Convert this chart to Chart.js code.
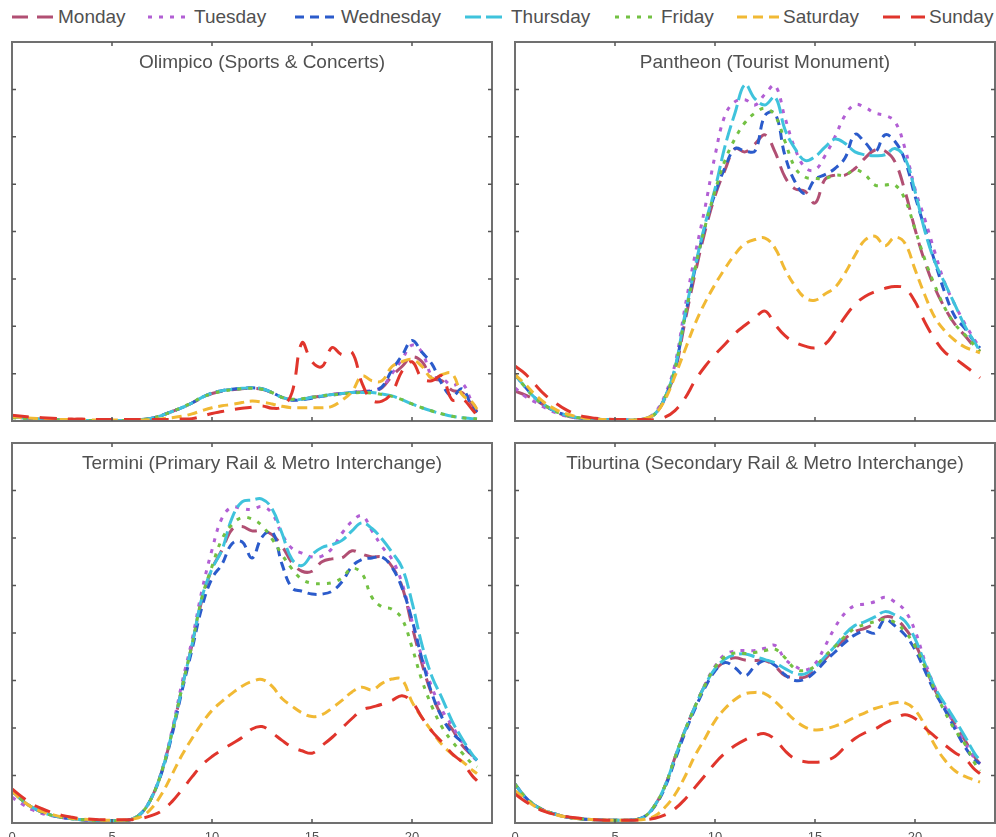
<!DOCTYPE html>
<html>
<head>
<meta charset="utf-8">
<title>Hourly activity by day of week</title>
<script src="https://cdn.jsdelivr.net/npm/chart.js@4"></script>
<style>
  html, body { margin: 0; padding: 0; background: #fff; }
  body { width: 996px; height: 837px; overflow: hidden; position: relative;
         font-family: "Liberation Sans", Arial, Helvetica, sans-serif; }
  .legend-item { position: absolute; top: 6px; height: 22px; display: flex; align-items: center;
                 color: #505050; font-size: 19px; white-space: nowrap; }
  .legend-item svg { margin-right: 4px; }
  canvas { position: absolute; }
</style>
</head>
<body>
<div id="legend"></div>
<canvas id="olimpico" width="500" height="400" style="left:0;top:30px"></canvas>
<canvas id="pantheon" width="496" height="400" style="left:500px;top:30px"></canvas>
<canvas id="termini" width="500" height="420" style="left:0;top:433px"></canvas>
<canvas id="tiburtina" width="496" height="420" style="left:500px;top:433px"></canvas>
<script>
// Hour of day for each sample
const hours = [0,0.5,1,1.5,2,2.5,3,3.5,4,4.5,5,5.5,
               6,6.5,7,7.5,8,8.5,9,9.5,10,10.5,11,11.5,
               12,12.5,13,13.5,14,14.5,15,15.5,16,16.5,17,17.5,
               18,18.5,19,19.5,20,20.5,21,21.5,22,22.5,23,23.25];

const days = ['Monday','Tuesday','Wednesday','Thursday','Friday','Saturday','Sunday'];
const xTickValues = [0,5,10,15,20];
const yTickValues = [1,2,3,4,5,6,7];

// Olimpico (Sports & Concerts)
const olimpicoMonday = [0.08,0.07,0.05,0.04,0.03,0.02,0.02,0.01,0.01,0.01,0.01,0.01,
  0.02,0.03,0.06,0.12,0.2,0.28,0.38,0.49,0.58,0.63,0.66,0.68,
  0.69,0.67,0.6,0.5,0.45,0.46,0.5,0.53,0.56,0.58,0.6,0.62,
  0.62,0.7,0.95,1.15,1.35,1.25,0.9,0.85,0.65,0.6,0.35,0.2];
const olimpicoTuesday = [0.08,0.07,0.05,0.04,0.03,0.02,0.02,0.01,0.01,0.01,0.01,0.01,
  0.02,0.03,0.06,0.12,0.2,0.28,0.38,0.5,0.59,0.64,0.67,0.69,
  0.7,0.68,0.6,0.5,0.45,0.46,0.5,0.53,0.56,0.58,0.6,0.62,
  0.65,0.72,1.0,1.3,1.6,1.45,0.95,0.9,0.75,0.8,0.4,0.25];
const olimpicoWednesday = [0.08,0.07,0.05,0.04,0.03,0.02,0.02,0.01,0.01,0.01,0.01,0.01,
  0.02,0.03,0.06,0.12,0.2,0.28,0.38,0.5,0.59,0.64,0.67,0.69,
  0.7,0.68,0.6,0.5,0.44,0.45,0.48,0.52,0.55,0.58,0.6,0.62,
  0.63,0.72,1.08,1.38,1.7,1.45,1.2,0.78,0.52,0.68,0.3,0.18];
const olimpicoThursday = [0.08,0.07,0.05,0.04,0.03,0.02,0.02,0.01,0.01,0.01,0.01,0.01,
  0.02,0.03,0.06,0.12,0.2,0.28,0.38,0.5,0.59,0.64,0.67,0.69,
  0.7,0.68,0.6,0.5,0.45,0.46,0.5,0.53,0.56,0.58,0.6,0.6,
  0.6,0.57,0.53,0.45,0.36,0.28,0.21,0.15,0.1,0.07,0.05,0.04];
const olimpicoFriday = [0.07,0.06,0.05,0.04,0.03,0.02,0.02,0.01,0.01,0.01,0.01,0.01,
  0.02,0.03,0.06,0.12,0.2,0.29,0.39,0.5,0.58,0.63,0.66,0.68,
  0.69,0.67,0.6,0.5,0.46,0.47,0.5,0.53,0.55,0.57,0.59,0.6,
  0.59,0.56,0.52,0.45,0.36,0.28,0.21,0.15,0.1,0.07,0.05,0.04];
const olimpicoSaturday = [0.09,0.07,0.06,0.05,0.04,0.03,0.03,0.02,0.02,0.02,0.02,0.02,
  0.02,0.02,0.03,0.05,0.07,0.1,0.15,0.22,0.28,0.32,0.35,0.39,
  0.42,0.4,0.36,0.31,0.28,0.28,0.28,0.28,0.31,0.44,0.62,0.95,
  0.85,0.85,1.15,1.25,1.3,1.15,0.9,0.98,1.0,0.56,0.4,0.25];
const olimpicoSunday = [0.12,0.1,0.08,0.07,0.06,0.05,0.04,0.04,0.03,0.03,0.03,0.03,
  0.03,0.03,0.03,0.03,0.03,0.04,0.05,0.1,0.16,0.2,0.24,0.27,
  0.29,0.32,0.27,0.3,0.6,1.65,1.25,1.15,1.55,1.4,1.45,0.8,
  0.44,0.42,0.6,1.05,1.25,0.9,0.85,0.95,0.45,0.47,0.25,0.12];

// Pantheon (Tourist Monument)
const pantheonMonday = [0.63,0.55,0.45,0.32,0.2,0.12,0.07,0.05,0.04,0.03,0.02,0.02,
  0.02,0.05,0.15,0.48,1.05,2.1,3.1,4.0,4.75,5.3,5.75,5.68,
  5.85,6.04,5.68,5.15,4.9,4.85,4.6,5.1,5.19,5.19,5.33,5.55,
  5.72,5.7,5.47,4.85,4.05,3.35,2.8,2.38,2.04,1.8,1.55,1.47];
const pantheonTuesday = [0.7,0.52,0.4,0.28,0.18,0.11,0.07,0.05,0.04,0.03,0.02,0.02,
  0.02,0.05,0.18,0.55,1.2,2.4,3.5,4.5,5.6,6.45,6.74,6.78,
  6.67,6.9,7.08,6.4,5.75,5.35,5.3,5.6,6.0,6.45,6.68,6.62,
  6.5,6.45,6.32,5.75,4.9,4.25,3.55,2.9,2.45,2.05,1.7,1.54];
const pantheonWednesday = [0.98,0.72,0.49,0.33,0.21,0.13,0.08,0.05,0.04,0.03,0.02,0.02,
  0.02,0.05,0.15,0.5,1.1,2.2,3.2,4.1,4.8,5.35,5.75,5.7,
  5.7,6.45,6.5,5.6,5.05,4.8,5.1,5.2,5.33,5.55,6.05,5.88,
  5.68,6.04,5.9,5.5,4.75,4.05,3.35,2.7,2.2,1.95,1.65,1.54];
const pantheonThursday = [0.98,0.72,0.49,0.33,0.21,0.13,0.08,0.05,0.04,0.03,0.02,0.02,
  0.02,0.05,0.15,0.5,1.12,2.25,3.25,4.15,4.9,5.8,6.5,7.1,
  6.8,6.67,6.84,6.15,5.75,5.5,5.58,5.78,5.95,5.86,5.68,5.62,
  5.6,5.62,5.75,5.55,4.85,4.0,3.35,2.9,2.45,2.0,1.65,1.47];
const pantheonFriday = [0.98,0.72,0.49,0.33,0.21,0.13,0.08,0.05,0.04,0.03,0.02,0.02,
  0.02,0.05,0.15,0.5,1.1,2.2,3.2,4.1,4.85,5.5,5.96,6.3,
  6.5,6.6,6.45,5.9,5.35,5.15,5.12,5.12,5.19,5.19,5.3,5.2,
  4.98,4.98,4.98,4.68,4.05,3.4,2.85,2.38,2.04,1.82,1.58,1.47];
const pantheonSaturday = [0.98,0.78,0.56,0.38,0.25,0.16,0.1,0.06,0.04,0.03,0.02,0.02,
  0.02,0.05,0.15,0.45,0.95,1.5,2.05,2.5,2.88,3.22,3.52,3.74,
  3.83,3.86,3.65,3.2,2.85,2.6,2.55,2.68,2.82,3.12,3.5,3.82,
  3.9,3.7,3.88,3.75,3.2,2.65,2.18,1.9,1.7,1.56,1.48,1.44];
const pantheonSunday = [1.16,1.0,0.77,0.55,0.39,0.25,0.15,0.09,0.06,0.04,0.03,0.03,
  0.03,0.03,0.03,0.08,0.22,0.48,0.85,1.15,1.4,1.62,1.85,2.02,
  2.18,2.32,2.04,1.8,1.66,1.58,1.54,1.62,1.88,2.2,2.46,2.63,
  2.73,2.8,2.84,2.8,2.52,2.08,1.72,1.45,1.32,1.16,1.0,0.91];

// Termini (Primary Rail & Metro Interchange)
const terminiMonday = [0.68,0.48,0.33,0.23,0.16,0.12,0.09,0.07,0.06,0.05,0.05,0.05,
  0.08,0.22,0.55,1.1,1.9,2.85,3.75,4.7,5.35,5.75,6.18,6.24,
  6.15,6.16,6.07,5.83,5.48,5.3,5.3,5.5,5.56,5.58,5.73,5.66,
  5.6,5.6,5.4,4.98,4.15,3.35,2.7,2.25,1.98,1.64,1.42,1.32];
const terminiTuesday = [0.54,0.4,0.28,0.2,0.15,0.11,0.09,0.07,0.06,0.05,0.05,0.05,
  0.08,0.22,0.56,1.12,1.95,2.95,3.85,4.9,5.75,6.42,6.65,6.62,
  6.6,6.66,6.52,6.08,5.78,5.68,5.6,5.62,5.78,6.1,6.35,6.47,
  6.15,5.82,5.55,5.05,4.25,3.48,2.85,2.38,2.05,1.7,1.42,1.32];
const terminiWednesday = [0.68,0.48,0.33,0.23,0.16,0.12,0.09,0.07,0.06,0.05,0.05,0.05,
  0.08,0.22,0.55,1.08,1.85,2.78,3.65,4.55,5.15,5.45,5.88,5.92,
  5.58,6.02,6.14,5.45,4.95,4.88,4.82,4.82,4.88,5.08,5.4,5.55,
  5.58,5.6,5.38,4.95,4.28,3.45,2.72,2.22,1.9,1.7,1.42,1.32];
const terminiThursday = [0.68,0.48,0.33,0.23,0.16,0.12,0.09,0.07,0.06,0.05,0.05,0.05,
  0.08,0.22,0.55,1.1,1.9,2.85,3.75,4.75,5.35,5.75,6.42,6.76,
  6.8,6.82,6.62,6.1,5.55,5.42,5.65,5.8,5.86,5.95,6.15,6.32,
  6.2,5.98,5.7,5.38,4.65,3.75,3.08,2.63,2.15,1.78,1.45,1.32];
const terminiFriday = [0.68,0.48,0.33,0.23,0.16,0.12,0.09,0.07,0.06,0.05,0.05,0.05,
  0.08,0.22,0.55,1.1,1.9,2.85,3.75,4.75,5.4,5.98,6.28,6.43,
  6.4,6.26,5.98,5.65,5.35,5.13,5.05,5.04,5.06,5.16,5.36,5.25,
  4.75,4.55,4.5,4.3,3.7,3.0,2.45,2.02,1.72,1.48,1.25,1.18];
const terminiSaturday = [0.68,0.48,0.33,0.24,0.18,0.13,0.1,0.08,0.07,0.06,0.06,0.06,
  0.08,0.14,0.32,0.62,1.02,1.43,1.78,2.1,2.37,2.56,2.73,2.88,
  2.98,3.02,2.88,2.62,2.46,2.32,2.24,2.28,2.42,2.58,2.76,2.86,
  2.8,2.94,3.03,3.02,2.55,2.22,1.93,1.65,1.45,1.3,1.12,1.04];
const terminiSunday = [0.72,0.55,0.4,0.3,0.22,0.16,0.12,0.09,0.08,0.07,0.07,0.07,
  0.07,0.1,0.16,0.26,0.45,0.7,0.97,1.22,1.4,1.54,1.67,1.8,
  1.98,2.03,1.9,1.74,1.6,1.52,1.47,1.63,1.8,2.0,2.2,2.38,
  2.44,2.5,2.58,2.68,2.55,2.22,1.93,1.7,1.46,1.28,1.0,0.89];

// Tiburtina (Secondary Rail & Metro Interchange)
const tiburtinaMonday = [0.82,0.55,0.37,0.26,0.19,0.13,0.1,0.08,0.07,0.06,0.06,0.06,
  0.07,0.14,0.38,0.78,1.38,1.95,2.45,2.9,3.22,3.4,3.48,3.43,
  3.42,3.42,3.3,3.1,3.07,3.07,3.22,3.45,3.67,3.88,4.03,4.1,
  4.2,4.34,4.3,4.1,3.78,3.3,2.8,2.43,2.08,1.74,1.38,1.25];
const tiburtinaTuesday = [0.82,0.55,0.37,0.26,0.19,0.13,0.1,0.08,0.07,0.06,0.06,0.06,
  0.07,0.14,0.38,0.78,1.38,1.95,2.45,2.92,3.3,3.55,3.62,3.63,
  3.63,3.68,3.74,3.45,3.3,3.22,3.35,3.72,4.12,4.42,4.58,4.61,
  4.66,4.75,4.65,4.47,4.05,3.4,2.85,2.45,2.05,1.68,1.35,1.25];
const tiburtinaWednesday = [0.82,0.55,0.37,0.26,0.19,0.13,0.1,0.08,0.07,0.06,0.06,0.06,
  0.07,0.14,0.36,0.75,1.32,1.9,2.4,2.85,3.2,3.38,3.27,3.1,
  3.3,3.42,3.32,3.12,3.0,3.03,3.18,3.4,3.6,3.8,3.96,4.04,
  4.0,4.28,4.15,3.96,3.65,3.2,2.75,2.38,1.98,1.6,1.32,1.25];
const tiburtinaThursday = [0.82,0.55,0.37,0.26,0.19,0.13,0.1,0.08,0.07,0.06,0.06,0.06,
  0.07,0.14,0.38,0.78,1.38,1.95,2.45,2.9,3.25,3.45,3.54,3.56,
  3.5,3.44,3.37,3.25,3.15,3.14,3.28,3.5,3.72,3.98,4.16,4.24,
  4.34,4.45,4.38,4.25,3.88,3.35,2.85,2.5,2.17,1.82,1.45,1.32];
const tiburtinaFriday = [0.82,0.55,0.37,0.26,0.19,0.13,0.1,0.08,0.07,0.06,0.06,0.06,
  0.07,0.14,0.38,0.78,1.38,1.95,2.45,2.9,3.28,3.5,3.58,3.57,
  3.59,3.63,3.66,3.48,3.25,3.21,3.3,3.52,3.72,3.93,4.1,4.18,
  4.24,4.29,4.22,4.03,3.72,3.28,2.78,2.33,1.96,1.66,1.25,1.1];
const tiburtinaSaturday = [0.68,0.5,0.35,0.25,0.18,0.13,0.1,0.08,0.07,0.06,0.06,0.06,
  0.06,0.08,0.15,0.33,0.6,0.98,1.42,1.78,2.15,2.41,2.6,2.72,
  2.75,2.72,2.56,2.36,2.16,2.02,1.96,1.98,2.04,2.12,2.23,2.32,
  2.41,2.47,2.53,2.53,2.38,2.05,1.63,1.32,1.1,0.98,0.9,0.86];
const tiburtinaSunday = [0.61,0.46,0.33,0.24,0.18,0.14,0.11,0.09,0.07,0.06,0.06,0.06,
  0.06,0.07,0.1,0.17,0.3,0.5,0.75,1.0,1.26,1.47,1.63,1.75,
  1.84,1.88,1.76,1.52,1.35,1.29,1.28,1.31,1.4,1.6,1.78,1.9,
  1.98,2.1,2.2,2.28,2.2,2.0,1.82,1.64,1.48,1.35,1.12,1.04];

// Line styles per weekday
const dayColors = ['#b14f73','#b25fd4','#2b5bcb','#3fc3dc','#73c143','#f1b934','#e0352c'];
const dayDashes = [[16,9],[4,7],[9,6],[16,5],[4,7],[10,6],[17,11]];

const FONT = '"Liberation Sans", Arial, Helvetica, sans-serif';
const TEXT_COLOR = '#505050';

// Legend across the top
const legendLeft = [12,148,295,465,615,737,883];
const legend = document.getElementById('legend');
days.forEach((d, i) => {
  const item = document.createElement('div');
  item.className = 'legend-item';
  item.style.left = legendLeft[i] + 'px';
  item.innerHTML = '<svg width="42" height="6"><line x1="0" y1="3" x2="42" y2="3" stroke="' + dayColors[i] +
    '" stroke-width="3" stroke-dasharray="' + dayDashes[i].join(' ') + '"/></svg><span>' + d + '</span>';
  legend.appendChild(item);
});

// Box frame with inward ticks, plus the panel title inside the plot area
const framePlugin = {
  id: 'frameBox',
  afterDraw(chart, args, opts) {
    const { ctx, chartArea: a } = chart;
    const x = chart.scales.x, y = chart.scales.y;
    ctx.save();
    ctx.strokeStyle = '#707070';
    ctx.lineWidth = 2;
    ctx.strokeRect(a.left, a.top, a.right - a.left, a.bottom - a.top);
    ctx.lineWidth = 1.5;
    ctx.strokeStyle = '#555';
    ctx.beginPath();
    xTickValues.forEach(v => {
      if (v <= x.min || v >= x.max) return;
      const px = x.getPixelForValue(v);
      ctx.moveTo(px, a.top); ctx.lineTo(px, a.top + 4);
      ctx.moveTo(px, a.bottom); ctx.lineTo(px, a.bottom - 4);
    });
    yTickValues.forEach(v => {
      const py = y.getPixelForValue(v);
      ctx.moveTo(a.left, py); ctx.lineTo(a.left + 4, py);
      ctx.moveTo(a.right, py); ctx.lineTo(a.right - 4, py);
    });
    ctx.stroke();
    ctx.fillStyle = TEXT_COLOR;
    ctx.font = '19px ' + FONT;
    ctx.textAlign = 'center';
    ctx.textBaseline = 'middle';
    ctx.fillText(opts.text, (a.left + a.right) / 2 + 10, a.top + 21);
    ctx.restore();
  }
};

function makePanel(canvasId, title, series, showXLabels, padding) {
  const datasets = series.map((vals, i) => ({
    label: days[i],
    data: hours.map((h, k) => ({ x: h, y: vals[k] })),
    borderColor: dayColors[i],
    borderDash: dayDashes[i],
    borderWidth: 3,
    pointRadius: 0,
    tension: 0.4,
    fill: false,
    order: days.length - i
  }));
  new Chart(document.getElementById(canvasId), {
    type: 'line',
    data: { datasets },
    options: {
      responsive: false,
      animation: false,
      events: [],
      layout: { padding },
      scales: {
        x: {
          type: 'linear', min: 0, max: 24,
          display: showXLabels,
          afterBuildTicks: s => { s.ticks = xTickValues.map(v => ({ value: v })); },
          afterFit: s => { if (showXLabels) s.height = 30; },
          grid: { display: false, drawTicks: false },
          border: { display: false },
          ticks: { color: TEXT_COLOR, padding: 7, maxRotation: 0, font: { size: 13, family: FONT } }
        },
        y: { min: 0, max: 8, display: false }
      },
      plugins: {
        legend: { display: false },
        tooltip: { enabled: false },
        frameBox: { text: title }
      }
    },
    plugins: [framePlugin]
  });
}

makePanel('olimpico', 'Olimpico (Sports & Concerts)',
  [olimpicoMonday, olimpicoTuesday, olimpicoWednesday, olimpicoThursday, olimpicoFriday, olimpicoSaturday, olimpicoSunday],
  false, { left: 12, top: 12, right: 8, bottom: 9 });
makePanel('pantheon', 'Pantheon (Tourist Monument)',
  [pantheonMonday, pantheonTuesday, pantheonWednesday, pantheonThursday, pantheonFriday, pantheonSaturday, pantheonSunday],
  false, { left: 15, top: 12, right: 1, bottom: 9 });
makePanel('termini', 'Termini (Primary Rail & Metro Interchange)',
  [terminiMonday, terminiTuesday, terminiWednesday, terminiThursday, terminiFriday, terminiSaturday, terminiSunday],
  true, { left: 12, top: 10, right: 8, bottom: 0 });
makePanel('tiburtina', 'Tiburtina (Secondary Rail & Metro Interchange)',
  [tiburtinaMonday, tiburtinaTuesday, tiburtinaWednesday, tiburtinaThursday, tiburtinaFriday, tiburtinaSaturday, tiburtinaSunday],
  true, { left: 15, top: 10, right: 1, bottom: 0 });
</script>
</body>
</html>
